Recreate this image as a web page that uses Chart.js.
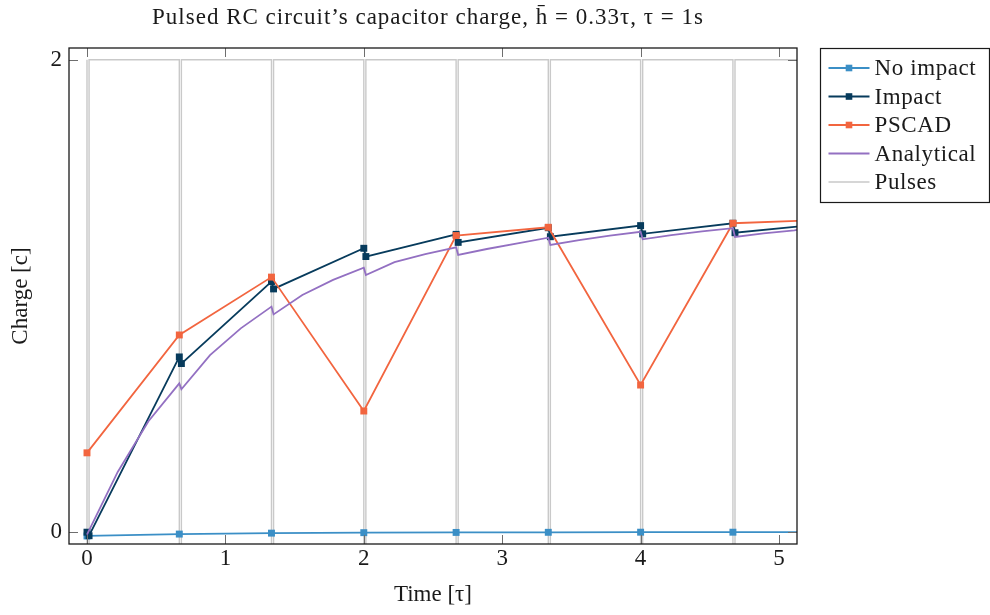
<!DOCTYPE html>
<html>
<head>
<meta charset="utf-8">
<script src="https://cdn.jsdelivr.net/npm/chart.js@4.4.1/dist/chart.umd.min.js"></script>
<style>
  html, body { margin: 0; padding: 0; background: #ffffff; }
  #wrap { width: 990px; height: 615px; position: relative; }
</style>
</head>
<body>
<div id="wrap"><canvas id="chart"></canvas></div>
<script>
const FONT = '"Liberation Serif", "Times New Roman", serif';

// Pulse instants (in τ), pulse width and the right end of the window
const pulseTimes = [0, 0.667, 1.333, 2.0, 2.667, 3.333, 4.0, 4.667];
const pulseWidth = 0.015;
const tEnd = 5.13;
const pulseHigh = 2;
const pulseLow = -1;

// No impact: charge at each pulse
const noImpactCharge = [-0.016, -0.008, -0.004, -0.002, -0.001, -0.0005, 0, 0];
const noImpactEnd = 0;

// Impact: charge just before / just after each pulse
const impactBefore = [0.0, 0.742, 1.061, 1.202, 1.261, 1.289, 1.298, 1.308];
const impactAfter = [-0.015, 0.714, 1.030, 1.167, 1.227, 1.251, 1.263, 1.268];
const impactEnd = 1.294;

// PSCAD: charge sampled at each pulse
const pscadCharge = [0.336, 0.835, 1.080, 0.513, 1.256, 1.291, 0.623, 1.308];
const pscadEnd = 1.318;

// Analytical solution: sample times and charge (paired samples at a pulse show the drop)
const analyticalTime = [0, 0.222, 0.444, 0.667, 0.682, 0.889, 1.111, 1.333, 1.348, 1.556, 1.778,
  2.0, 2.015, 2.222, 2.444, 2.667, 2.682, 2.889, 3.111, 3.333, 3.348, 3.556, 3.778,
  4.0, 4.015, 4.222, 4.444, 4.667, 4.682, 4.889, 5.111, 5.13];
const analyticalCharge = [-0.01, 0.255, 0.470, 0.630, 0.605, 0.750, 0.863, 0.955, 0.922, 1.004, 1.068,
  1.120, 1.089, 1.143, 1.177, 1.206, 1.174, 1.199, 1.223, 1.247, 1.216, 1.237, 1.256,
  1.272, 1.240, 1.258, 1.274, 1.287, 1.250, 1.265, 1.278, 1.280];

// Axes
const xTicks = [0, 1, 2, 3, 4, 5];
const yTicks = [0, 2];
const xRange = [-0.13, 5.13];
const yRange = [-0.05, 2.05];

const colors = {
  noImpact: '#3b8fc6',
  impact: '#073b5c',
  pscad: '#f2653f',
  analytical: '#9370c2',
  pulses: '#c9c9c9'
};

// Build point lists
const noImpactData = pulseTimes.map((t, i) => ({ x: t, y: noImpactCharge[i] }))
  .concat([{ x: tEnd, y: noImpactEnd }]);

const impactData = [];
pulseTimes.forEach((t, i) => {
  impactData.push({ x: t, y: impactBefore[i] });
  impactData.push({ x: t + pulseWidth, y: impactAfter[i] });
});
impactData.push({ x: tEnd, y: impactEnd });

const pscadData = pulseTimes.map((t, i) => ({ x: t, y: pscadCharge[i] }))
  .concat([{ x: tEnd, y: pscadEnd }]);

const analyticalData = analyticalTime.map((t, i) => ({ x: t, y: analyticalCharge[i] }));

const pulsesData = [];
pulseTimes.forEach(t => {
  pulsesData.push({ x: t, y: pulseHigh });
  pulsesData.push({ x: t, y: pulseLow });
  pulsesData.push({ x: t + pulseWidth, y: pulseLow });
  pulsesData.push({ x: t + pulseWidth, y: pulseHigh });
});
pulsesData.push({ x: tEnd, y: pulseHigh });

const markerRadius = ctx => (ctx.raw && ctx.raw.x >= tEnd ? 0 : 4.9);

function markedSeries(label, data, color, order) {
  return {
    label, data, order,
    borderColor: color,
    backgroundColor: color,
    borderWidth: 1.8,
    pointStyle: 'rect',
    pointRadius: markerRadius,
    pointBorderWidth: 0,
    pointBackgroundColor: color,
    tension: 0,
    legendMarker: true
  };
}

const datasets = [
  markedSeries('No impact', noImpactData, colors.noImpact, 4),
  markedSeries('Impact', impactData, colors.impact, 3),
  markedSeries('PSCAD', pscadData, colors.pscad, 2),
  {
    label: 'Analytical', data: analyticalData, order: 1,
    borderColor: colors.analytical, backgroundColor: colors.analytical,
    borderWidth: 1.8, pointRadius: 0, tension: 0, legendMarker: false
  },
  {
    label: 'Pulses', data: pulsesData, order: 5,
    borderColor: colors.pulses, backgroundColor: colors.pulses,
    borderWidth: 1.4, pointRadius: 0, tension: 0, legendMarker: false
  }
];

// Title centred over the plot area
const titlePlugin = {
  id: 'plotTitle',
  afterDraw(chart) {
    const { ctx, chartArea } = chart;
    ctx.save();
    ctx.font = '23px ' + FONT;
    if ('letterSpacing' in ctx) ctx.letterSpacing = '1px';
    ctx.fillStyle = '#1a1a1a';
    ctx.textAlign = 'center';
    ctx.textBaseline = 'alphabetic';
    ctx.fillText('Pulsed RC circuit\u2019s capacitor charge, h\u0304 = 0.33\u03c4, \u03c4 = 1s',
      (chartArea.left + chartArea.right) / 2 - 5, 24);
    ctx.restore();
  }
};

// Axis frame with inward tick marks on all four sides
const framePlugin = {
  id: 'frame',
  afterDatasetsDraw(chart) {
    const { ctx, chartArea: a, scales } = chart;
    const len = 9;
    ctx.save();
    ctx.strokeStyle = '#6e6e6e';
    ctx.lineWidth = 1;
    xTicks.forEach(v => {
      const px = Math.round(scales.x.getPixelForValue(v)) + 0.5;
      ctx.beginPath();
      ctx.moveTo(px, a.bottom); ctx.lineTo(px, a.bottom - len);
      ctx.moveTo(px, a.top); ctx.lineTo(px, a.top + len);
      ctx.stroke();
    });
    yTicks.forEach(v => {
      const py = Math.round(scales.y.getPixelForValue(v)) + 0.5;
      ctx.beginPath();
      ctx.moveTo(a.left, py); ctx.lineTo(a.left + len, py);
      ctx.moveTo(a.right, py); ctx.lineTo(a.right - len, py);
      ctx.stroke();
    });
    ctx.strokeStyle = '#1a1a1a';
    ctx.lineWidth = 1.3;
    ctx.strokeRect(a.left, a.top, a.right - a.left, a.bottom - a.top);
    ctx.restore();
  }
};

// Boxed legend to the right of the plot: line sample with marker, then label
const legendPlugin = {
  id: 'boxLegend',
  afterDraw(chart) {
    const { ctx, chartArea: a } = chart;
    const boxLeft = a.right + 23.5;
    const boxTop = a.top + 0.5;
    const boxW = 990 - boxLeft - 0.5;
    const boxH = 154;
    const rowStart = boxTop + 19.5;
    const rowStep = 28.5;
    ctx.save();
    ctx.fillStyle = '#ffffff';
    ctx.fillRect(boxLeft, boxTop, boxW, boxH);
    ctx.strokeStyle = '#1a1a1a';
    ctx.lineWidth = 1.2;
    ctx.strokeRect(boxLeft, boxTop, boxW, boxH);
    chart.data.datasets.forEach((ds, i) => {
      const y = rowStart + i * rowStep;
      const x0 = boxLeft + 8, x1 = boxLeft + 49;
      ctx.strokeStyle = ds.borderColor;
      ctx.lineWidth = ds.borderWidth;
      ctx.beginPath();
      ctx.moveTo(x0, y); ctx.lineTo(x1, y);
      ctx.stroke();
      if (ds.legendMarker) {
        const s = 6.6;
        ctx.fillStyle = ds.borderColor;
        ctx.fillRect((x0 + x1) / 2 - s / 2, y - s / 2, s, s);
      }
      ctx.fillStyle = '#1a1a1a';
      ctx.font = '23px ' + FONT;
      if ('letterSpacing' in ctx) ctx.letterSpacing = '0.6px';
      ctx.textAlign = 'left';
      ctx.textBaseline = 'middle';
      ctx.fillText(ds.label, boxLeft + 54, y + 1);
    });
    ctx.restore();
  }
};

new Chart(document.getElementById('chart'), {
  type: 'line',
  data: { datasets },
  options: {
    responsive: true,
    maintainAspectRatio: false,
    animation: false,
    events: [],
    layout: { padding: { top: 48, right: 193, bottom: 0, left: 0 } },
    plugins: {
      legend: { display: false },
      title: { display: false },
      tooltip: { enabled: false }
    },
    scales: {
      x: {
        type: 'linear',
        min: xRange[0], max: xRange[1],
        afterBuildTicks: s => { s.ticks = xTicks.map(v => ({ value: v })); },
        afterFit: s => { s.height = 71; },
        grid: { display: false, drawTicks: false },
        border: { display: false },
        ticks: { padding: 1, color: '#1a1a1a', font: { family: FONT, size: 23 }, maxRotation: 0 },
        title: { display: true, text: 'Time [\u03c4]', color: '#1a1a1a',
                 font: { family: FONT, size: 23 }, padding: { top: 0, bottom: 6 } }
      },
      y: {
        type: 'linear',
        min: yRange[0], max: yRange[1],
        afterBuildTicks: s => { s.ticks = yTicks.map(v => ({ value: v })); },
        afterFit: s => { s.width = 69; },
        grid: { display: false, drawTicks: false },
        border: { display: false },
        ticks: { padding: 7, color: '#1a1a1a', font: { family: FONT, size: 23 } },
        title: { display: true, text: 'Charge [c]', color: '#1a1a1a',
                 font: { family: FONT, size: 23 }, padding: { top: 7, bottom: 0 } }
      }
    }
  },
  plugins: [titlePlugin, framePlugin, legendPlugin]
});
</script>
</body>
</html>
